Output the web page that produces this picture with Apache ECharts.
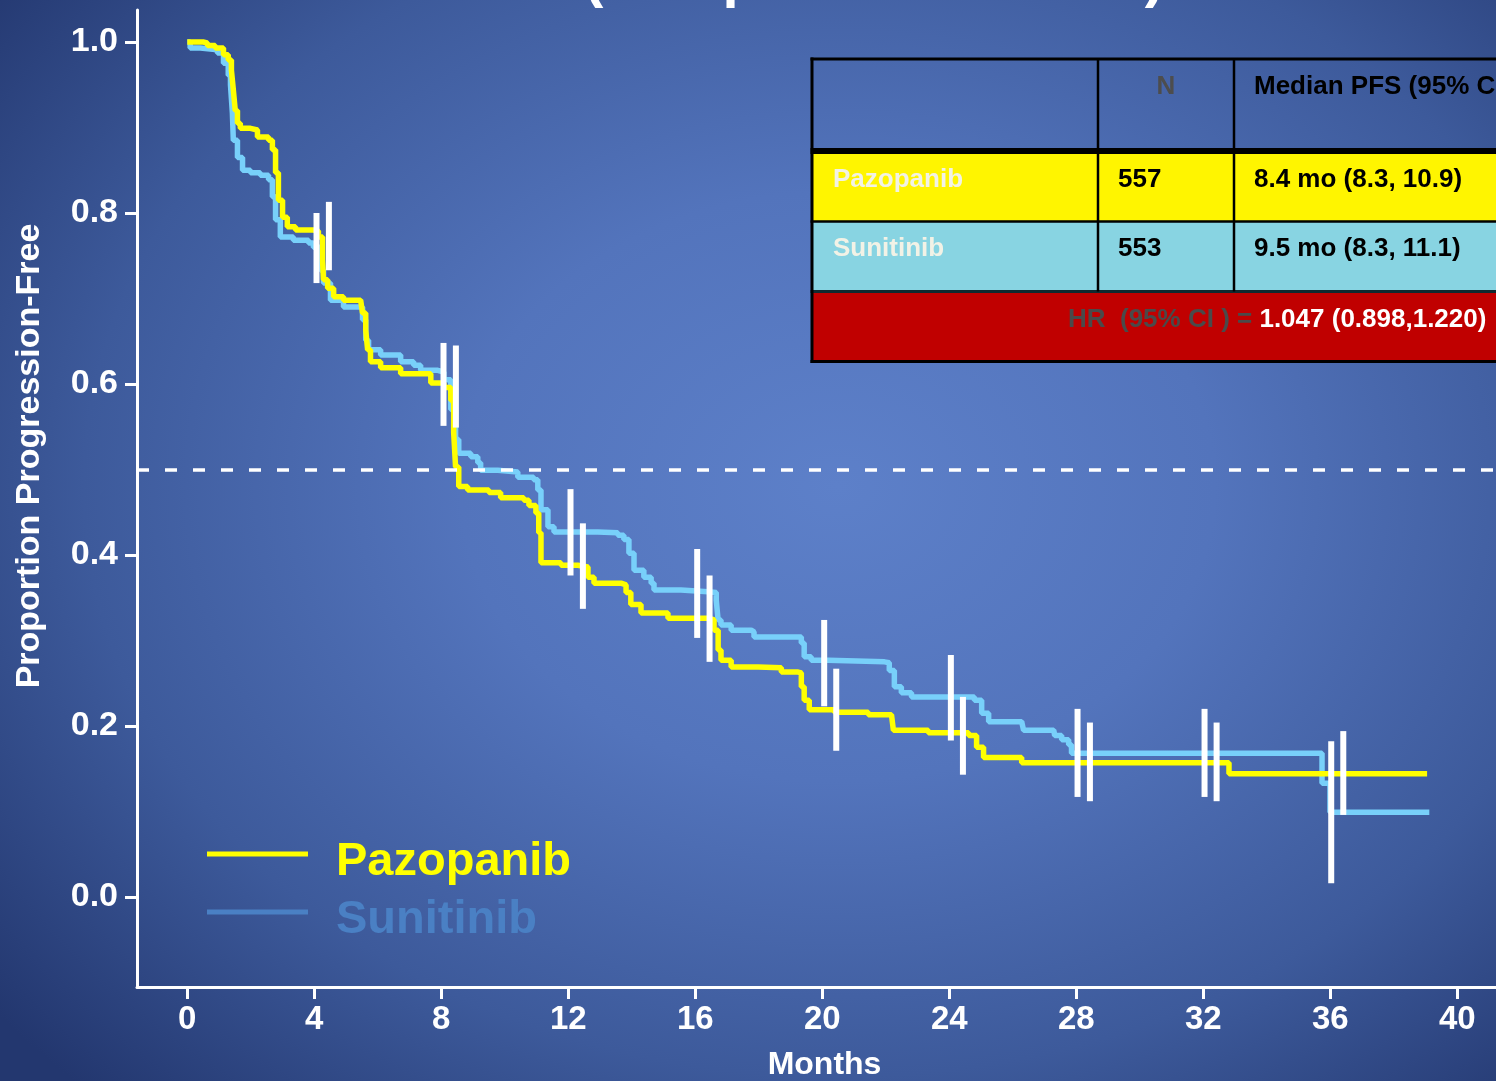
<!DOCTYPE html>
<html>
<head>
<meta charset="utf-8">
<script src="https://cdn.jsdelivr.net/npm/echarts@6/dist/echarts.min.js"></script>
<style>
  html, body { margin: 0; padding: 0; width: 1496px; height: 1081px; overflow: hidden; }
  #chart {
    width: 1496px; height: 1081px;
    background: radial-gradient(ellipse 72% 78% at 56% 45%, #5d80c9 0%, #5374bc 35%, #3d5a9b 70%, #23376f 100%);
  }
</style>
</head>
<body>
<div id="chart"></div>
<script>
// Kaplan-Meier progression-free survival (months, proportion progression-free)
const pazopanibMonths = [0, 0.50, 0.63, 0.88, 1.14, 1.29, 1.39, 1.45, 1.51, 1.58, 1.67, 1.99, 2.21, 2.56, 2.68, 2.78, 2.87, 3.00, 3.15, 3.41,
  3.97, 4.13, 4.26, 4.29, 4.42, 4.61, 4.92, 5.46, 5.52, 5.62, 5.68, 5.77, 6.09, 6.72, 7.67, 8.08, 8.30, 8.39, 8.45, 8.55,
  8.83, 9.50, 9.87, 10.60, 10.76, 10.98, 11.07, 11.14, 11.77, 12.30, 12.62, 12.81, 13.66, 13.82, 13.97, 14.29, 15.14, 16.44, 16.59, 16.72,
  16.81, 17.13, 17.98, 18.71, 19.24, 19.34, 19.43, 19.59, 20.38, 21.45, 22.18, 22.24, 23.34, 24.61, 24.86, 25.08, 26.28, 32.81, 39.05];
const pazopanibSurvival = [1.000, 0.999, 0.996, 0.993, 0.985, 0.979, 0.967, 0.944, 0.920, 0.905, 0.899, 0.897, 0.889, 0.885, 0.874, 0.847, 0.815, 0.795, 0.784, 0.780,
  0.779, 0.772, 0.745, 0.722, 0.712, 0.702, 0.698, 0.696, 0.683, 0.663, 0.640, 0.626, 0.619, 0.612, 0.601, 0.596, 0.581, 0.543, 0.503, 0.480,
  0.476, 0.473, 0.467, 0.464, 0.458, 0.449, 0.426, 0.391, 0.388, 0.386, 0.374, 0.367, 0.365, 0.356, 0.342, 0.332, 0.326, 0.324, 0.312, 0.289,
  0.277, 0.269, 0.268, 0.263, 0.262, 0.246, 0.230, 0.219, 0.216, 0.213, 0.211, 0.195, 0.192, 0.189, 0.175, 0.163, 0.157, 0.144, 0.144];

const sunitinibMonths = [0, 0.09, 0.41, 0.95, 1.14, 1.29, 1.36, 1.42, 1.45, 1.58, 1.74, 1.99, 2.30, 2.56, 2.68, 2.78, 2.93, 3.34, 3.82, 3.97,
  4.20, 4.29, 4.51, 4.92, 5.36, 5.52, 5.62, 5.71, 6.09, 6.72, 7.13, 7.35, 7.89, 8.08, 8.30, 8.45, 8.55, 8.93, 9.15, 9.24,
  9.78, 10.41, 10.91, 11.04, 11.14, 11.36, 11.55, 12.93, 13.56, 13.75, 13.91, 14.07, 14.38, 14.61, 14.70, 15.55, 16.40, 16.66, 16.72, 16.81,
  17.13, 17.76, 17.85, 19.24, 19.34, 19.43, 19.65, 20.19, 21.96, 22.11, 22.27, 22.49, 22.81, 24.07, 24.79, 25.02, 25.24, 26.28, 26.34, 27.29,
  27.32, 27.54, 27.76, 27.85, 35.74, 35.99, 39.12];
const sunitinibSurvival = [1.000, 0.993, 0.991, 0.987, 0.975, 0.961, 0.950, 0.917, 0.885, 0.865, 0.850, 0.847, 0.844, 0.839, 0.819, 0.792, 0.772, 0.768, 0.765, 0.760,
  0.733, 0.718, 0.698, 0.690, 0.690, 0.675, 0.651, 0.640, 0.634, 0.626, 0.622, 0.616, 0.614, 0.605, 0.570, 0.535, 0.519, 0.515, 0.508, 0.499,
  0.497, 0.491, 0.488, 0.476, 0.453, 0.433, 0.427, 0.426, 0.423, 0.418, 0.402, 0.382, 0.374, 0.367, 0.359, 0.357, 0.356, 0.347, 0.324, 0.318,
  0.312, 0.310, 0.304, 0.304, 0.297, 0.281, 0.277, 0.275, 0.274, 0.265, 0.246, 0.239, 0.234, 0.234, 0.230, 0.215, 0.205, 0.204, 0.195, 0.195,
  0.189, 0.184, 0.178, 0.168, 0.133, 0.099, 0.099];

// 95% confidence intervals shown every 4 months
const ciMonths = [4.07, 4.46, 8.07, 8.46, 12.07, 12.46, 16.06, 16.45, 20.06, 20.44, 24.05, 24.43, 28.04, 28.43, 32.04, 32.42, 36.03, 36.41];
const ciLower  = [0.718, 0.733, 0.551, 0.549, 0.376, 0.337, 0.303, 0.275, 0.223, 0.171, 0.183, 0.143, 0.117, 0.112, 0.117, 0.112, 0.016, 0.096];
const ciUpper  = [0.800, 0.813, 0.648, 0.645, 0.477, 0.437, 0.407, 0.376, 0.324, 0.267, 0.283, 0.234, 0.220, 0.204, 0.220, 0.204, 0.182, 0.194];

const medianLevel = 0.5;
const xTicks = [0, 4, 8, 12, 16, 20, 24, 28, 32, 36, 40];
const yTicks = [0, 0.2, 0.4, 0.6, 0.8, 1.0];

// Summary table
const tableHeader = ['', 'N', 'Median PFS (95% CI)'];
const armNames = ['Pazopanib', 'Sunitinib'];
const armN = ['557', '553'];
const armMedian = ['8.4 mo (8.3, 10.9)', '9.5 mo (8.3, 11.1)'];
const hrLabel = 'HR  (95% CI ) = ';
const hrValue = '1.047 (0.898,1.220)';

const FONT = '"Liberation Sans", Arial, Helvetica, sans-serif';
const YELLOW = '#ffff00';
const SKY = '#78d0fa';

const toPairs = (xs, ys) => xs.map((x, i) => [x, ys[i]]);

// ---- table drawing ----
const T = { left: 812, right: 1560, cols: [812, 1098, 1234], rows: [59, 151, 221.5, 291.5, 361.5] };
const rowFill = ['#fff500', '#88d4e2'];
const tableGraphics = [];
rowFill.forEach((c, i) => {
  tableGraphics.push({ type: 'rect', shape: { x: T.left, y: T.rows[i + 1], width: T.right - T.left, height: T.rows[i + 2] - T.rows[i + 1] }, style: { fill: c } });
});
tableGraphics.push({ type: 'rect', shape: { x: T.left, y: T.rows[3], width: T.right - T.left, height: T.rows[4] - T.rows[3] }, style: { fill: '#c00000' } });
const hLine = (y, w, c) => ({ type: 'line', shape: { x1: T.left - 1.5, y1: y, x2: T.right, y2: y }, style: { stroke: c || '#000', lineWidth: w } });
const vLine = (x, y1, y2, w) => ({ type: 'line', shape: { x1: x, y1: y1, x2: x, y2: y2 }, style: { stroke: '#000', lineWidth: w } });
tableGraphics.push(hLine(T.rows[0], 3));
tableGraphics.push(hLine(T.rows[1], 6));
tableGraphics.push(hLine(T.rows[2], 2.5));
tableGraphics.push(hLine(T.rows[3], 3, '#102a30'));
tableGraphics.push(hLine(T.rows[4], 3));
tableGraphics.push(vLine(T.left, T.rows[0] - 1.5, T.rows[4] + 1.5, 3));
tableGraphics.push(vLine(T.cols[1], T.rows[0], T.rows[3], 2.5));
tableGraphics.push(vLine(T.cols[2], T.rows[0], T.rows[3], 2.5));

const cellText = (txt, x, y, color, align) => ({
  type: 'text', x: x, y: y,
  style: { text: txt, fill: color, font: 'bold 26px ' + FONT, align: align || 'left', verticalAlign: 'middle' }
});
tableGraphics.push(cellText(tableHeader[1], 1166, 87, '#4d4d4d', 'center'));
tableGraphics.push(cellText(tableHeader[2], 1254, 87, '#000000'));
const rowTextY = [180, 249];
armNames.forEach((name, i) => {
  tableGraphics.push(cellText(name, 833, rowTextY[i], '#f2f2e6'));
  tableGraphics.push(cellText(armN[i], 1118, rowTextY[i], '#000000'));
  tableGraphics.push(cellText(armMedian[i], 1254, rowTextY[i], '#000000'));
});
tableGraphics.push({
  type: 'text', x: 1068, y: 320,
  style: {
    text: '{g|' + hrLabel + '}{w|' + hrValue + '}',
    verticalAlign: 'middle',
    rich: {
      g: { fill: '#4a4a4a', font: 'bold 26px ' + FONT },
      w: { fill: '#ffffff', font: 'bold 26px ' + FONT }
    }
  }
});

// legend swatch: a bar sitting at the top of its box so the label reads slightly below it
const legendSwatch = 'path://M0,0H100V5H0Z M0,22H0.01V22.01H0Z';

const chart = echarts.init(document.getElementById('chart'), null, { renderer: 'canvas' });
chart.setOption({
  backgroundColor: 'transparent',
  animation: false,
  textStyle: { fontFamily: FONT },
  grid: { left: 137, right: 0, top: 10, bottom: 94, containLabel: false, outerBoundsMode: 'none' },
  legend: {
    orient: 'vertical',
    left: 207, top: 839,
    padding: 0,
    icon: legendSwatch,
    itemWidth: 101, itemHeight: 23,
    itemGap: 11,
    selectedMode: false,
    textStyle: { fontSize: 47, fontWeight: 'bold', fontFamily: FONT, padding: [0, 0, 0, 23] },
    data: [
      { name: 'Pazopanib', itemStyle: { color: YELLOW }, textStyle: { color: YELLOW } },
      { name: 'Sunitinib', itemStyle: { color: '#4a80c4' }, textStyle: { color: '#4a80c4' } }
    ]
  },
  xAxis: {
    type: 'value',
    min: -1.584, max: 41.22,
    name: 'Months', nameLocation: 'middle', nameGap: 62,
    nameTextStyle: { color: '#ffffff', fontSize: 32, fontWeight: 'bold', fontFamily: FONT, padding: [0, 0, 0, 16] },
    axisLine: { onZero: false, lineStyle: { color: '#ffffff', width: 3 } },
    axisTick: { customValues: xTicks, length: 12, lineStyle: { color: '#ffffff', width: 3 } },
    axisLabel: { customValues: xTicks, color: '#ffffff', fontSize: 33, fontWeight: 'bold', margin: 16 },
    splitLine: { show: false }
  },
  yAxis: {
    type: 'value',
    min: -0.1053, max: 1.0374,
    axisLine: { onZero: false, lineStyle: { color: '#ffffff', width: 3 } },
    axisTick: { customValues: yTicks, length: 12, lineStyle: { color: '#ffffff', width: 3 } },
    axisLabel: { customValues: yTicks, color: '#ffffff', fontSize: 34, fontWeight: 'bold', margin: 19,
      formatter: v => v.toFixed(1) },
    splitLine: { show: false }
  },
  graphic: [
    {
      type: 'text', x: 584, y: -20,
      style: { text: '(Independent review)', fill: '#ffffff', font: 'bold 58px ' + FONT, verticalAlign: 'middle' }
    },
    {
      type: 'text', x: 30, y: 456, rotation: Math.PI / 2,
      style: { text: 'Proportion Progression-Free', fill: '#ffffff', font: 'bold 34px ' + FONT, align: 'center', verticalAlign: 'middle' }
    },
    ...tableGraphics
  ],
  series: [
    {
      name: 'Sunitinib', type: 'line', step: 'end', showSymbol: false, z: 2,
      lineStyle: { color: SKY, width: 5.5 }, itemStyle: { color: SKY },
      data: toPairs(sunitinibMonths, sunitinibSurvival)
    },
    {
      name: 'Pazopanib', type: 'line', step: 'end', showSymbol: false, z: 3,
      lineStyle: { color: YELLOW, width: 5.5 }, itemStyle: { color: YELLOW },
      data: toPairs(pazopanibMonths, pazopanibSurvival)
    },
    {
      name: '95% CI', type: 'custom', z: 4,
      encode: { x: 0, y: [1, 2] },
      data: ciMonths.map((m, i) => [m, ciLower[i], ciUpper[i]]),
      renderItem: function (params, api) {
        const hi = api.coord([api.value(0), api.value(2)]);
        const lo = api.coord([api.value(0), api.value(1)]);
        return { type: 'rect', shape: { x: hi[0] - 3, y: hi[1], width: 6, height: lo[1] - hi[1] }, style: { fill: '#ffffff' } };
      }
    },
    {
      name: 'median', type: 'line', data: [], z: 5,
      markLine: {
        silent: true, symbol: 'none', label: { show: false },
        lineStyle: { color: '#ffffff', width: 3.5, type: [12, 16] },
        data: [{ yAxis: medianLevel }]
      }
    }
  ]
});
</script>
</body>
</html>
